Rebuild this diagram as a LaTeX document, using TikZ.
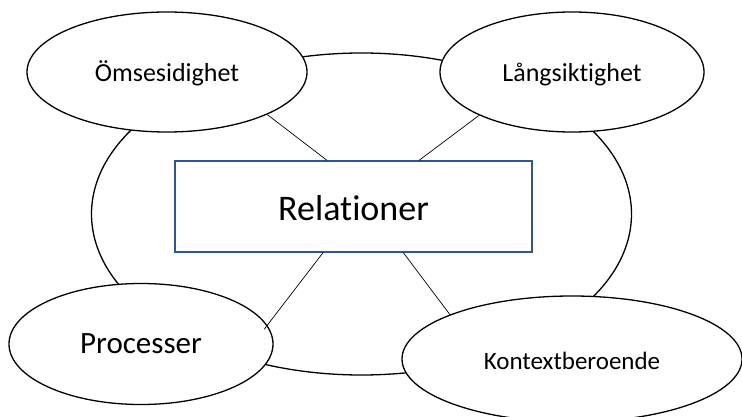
\documentclass[tikz,border=0pt]{standalone}
\usepackage{fontspec}
\setmainfont[Ligatures=NoCommon]{Carlito}
\usetikzlibrary{shapes.geometric,calc}
\definecolor{boxblue}{RGB}{47,85,151}
\tikzset{
  x=1pt, y=-1pt,
  bubble/.style={ellipse, draw=black, line width=1.3pt, fill=white, inner sep=0pt},
  hub/.style={rectangle, draw=boxblue, line width=1.3pt, fill=white, inner sep=0pt,
              minimum width=357pt, minimum height=91pt, font=\fontsize{36}{40}\selectfont,
              text height=33.5pt, text depth=6.5pt},
  link/.style={draw=black, line width=0.7pt}
}
\begin{document}
\begin{tikzpicture}
\useasboundingbox (0,0) rectangle (742,417);
% large background ellipse
\node[bubble, minimum width=540pt, minimum height=322pt] (ring) at (361.5,214) {};
% four satellites
\node[bubble, minimum width=280pt, minimum height=120pt, font=\fontsize{26}{30}\selectfont,
      text height=24.7pt, text depth=4.7pt]
  (oms) at (167,72) {Ömsesidighet};
\node[bubble, minimum width=264pt, minimum height=120pt, font=\fontsize{26}{30}\selectfont,
      text height=24.7pt, text depth=4.7pt]
  (lang) at (572,72) {Långsiktighet};
\node[bubble, minimum width=264pt, minimum height=121pt, font=\fontsize{31}{35}\selectfont,
      text height=25pt, text depth=5.2pt]
  (proc) at (141,344) {Processer};
\node[bubble, minimum width=340pt, minimum height=126pt, font=\fontsize{25}{29}\selectfont,
      text height=24.5pt, text depth=4.5pt]
  (kont) at (572,359) {Kontextberoende};
% central box
\node[hub] (rel) at (353.5,206.5) {Relationer};
% connectors
\draw[link] (oms.-23) -- ($(rel.north west)!0.426!(rel.north east)$);
\draw[link] (lang.-155) -- ($(rel.north west)!0.683!(rel.north east)$);
\draw[link] ($(rel.south west)!0.415!(rel.south east)$) -- ($(proc.7)+(-5,1)$);
\draw[link] ($(rel.south west)!0.639!(rel.south east)$) -- (kont.160);
\end{tikzpicture}
\end{document}
